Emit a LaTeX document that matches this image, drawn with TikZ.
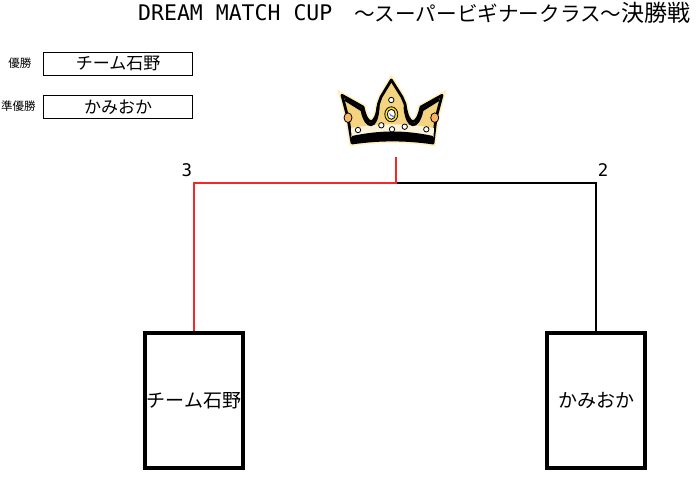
\documentclass[tikz,border=0pt]{standalone}
\usepackage{fontspec}
\setmainfont{Noto Sans CJK JP}
\newfontfamily\monofont{DejaVu Sans Mono}
\usetikzlibrary{positioning}
\definecolor{winred}{RGB}{240,40,40}
\definecolor{gold}{RGB}{244,212,128}
\definecolor{halo}{RGB}{255,240,190}
\definecolor{cream}{RGB}{252,244,218}
\definecolor{gem}{RGB}{250,180,100}
\definecolor{ring}{RGB}{250,220,40}
\definecolor{stone}{RGB}{90,140,230}

\begin{document}
\begin{tikzpicture}[x=1pt,y=-1pt,
        team/.style = {draw, line width=3.5pt, minimum width=98pt, minimum height=135pt, inner sep=0pt, font=\fontsize{19}{19}\selectfont},
        result/.style = {draw, line width=1pt, minimum width=149pt, minimum height=23pt, inner sep=0pt, font=\fontsize{17}{17}\selectfont},
        rank/.style = {inner sep=0pt, font=\fontsize{11.5}{11.5}\selectfont},
        score/.style = {inner sep=0pt, font=\monofont\fontsize{17.4}{17.4}\selectfont},
        win/.style = {draw=winred, line width=2pt},
        lose/.style = {draw=black, line width=2pt},
        crown/.style = {draw, fill=gold, line width=2.8pt, line join=round, preaction={draw=halo, line width=6pt}},
        jewel/.style = {draw, line width=0.8pt},
        node distance={402pt}]
        \useasboundingbox (0,0) rectangle (700,482);
        % title
        \node[anchor=base west, inner sep=0pt, font=\monofont\fontsize{21.5}{21.5}\selectfont] (cup) at (138,20.7) {DREAM MATCH CUP};
        \node[anchor=base west, inner sep=0pt, font=\fontsize{20.6}{20.6}\selectfont] (klass) at (354,21.5) {～スーパービギナークラス～};
        \node[anchor=base west, inner sep=0pt, font=\fontsize{23}{23}\selectfont] (final) at (klass.base east) {決勝戦};
        % results
        \node[rank] (r1) at (20,63) {優勝};
        \node[rank] (r2) at (18.5,106.5) {準優勝};
        \node[result] (first) at (118,63.5) {チーム石野};
        \node[result] (second) at (118,107) {かみおか};
        % bracket
        \node[team] (ishino) at (194,400.5) {チーム石野};
        \node[team] (kamioka) [right of=ishino] {かみおか};
        \coordinate (joint) at (396,183);
        \coordinate (top) at (396,157);
        \draw[lose] (kamioka.north) |- (joint);
        \draw[win] (ishino.north) |- (joint) -- (top);
        \node[score] (s1) at (186.8,169.7) {3};
        \node[score] (s2) at (603,170) {2};
        % crown
        \draw[crown] (342,95.3) -- (363,107) .. controls (367,127) and (376,127) .. (378.5,104) -- (381,97) -- (391.3,80) -- (402,97) -- (405,104)
            .. controls (408,127) and (417,127) .. (421,107) -- (442,95.3) -- (436,118) -- (433,143) .. controls (405,139) and (380,139) .. (352,143) -- (348,118) -- cycle;
        \fill[cream] (351,128) .. controls (380,123) and (405,123) .. (434,128) -- (433.5,137) -- (351.5,137) -- cycle;
        \draw[line width=3pt, line cap=round] (346,100) -- (362,110) .. controls (366,130) and (377,130) .. (378,107);
        \draw[line width=3pt, line cap=round] (438,100) -- (422,110) .. controls (418,130) and (407,130) .. (405,107);
        \fill (352,136) .. controls (380,130) and (405,130) .. (433,136) -- (433,143) .. controls (405,139) and (380,139) .. (352,143) -- cycle;
        \filldraw[jewel, fill=gem] (348,117.7) ellipse [x radius=4pt, y radius=4.8pt];
        \filldraw[jewel, fill=gem] (434.7,117.7) ellipse [x radius=4pt, y radius=4.8pt];
        \filldraw[jewel, fill=ring] (391.3,114.3) ellipse [x radius=6.5pt, y radius=7.5pt];
        \filldraw[jewel, fill=white] (391.3,114.3) ellipse [x radius=4pt, y radius=5pt];
        \fill[stone] (389,113) arc [start angle=180, end angle=300, radius=4pt] -- (391.5,115) -- cycle;
        \foreach \p in {(391.3,100), (381.3,125.3), (392,129.3), (404.7,126.7), (358,130), (426.3,129.3)}
            \filldraw[jewel, fill=white] \p circle [radius=2.7pt];
\end{tikzpicture}
\end{document}
